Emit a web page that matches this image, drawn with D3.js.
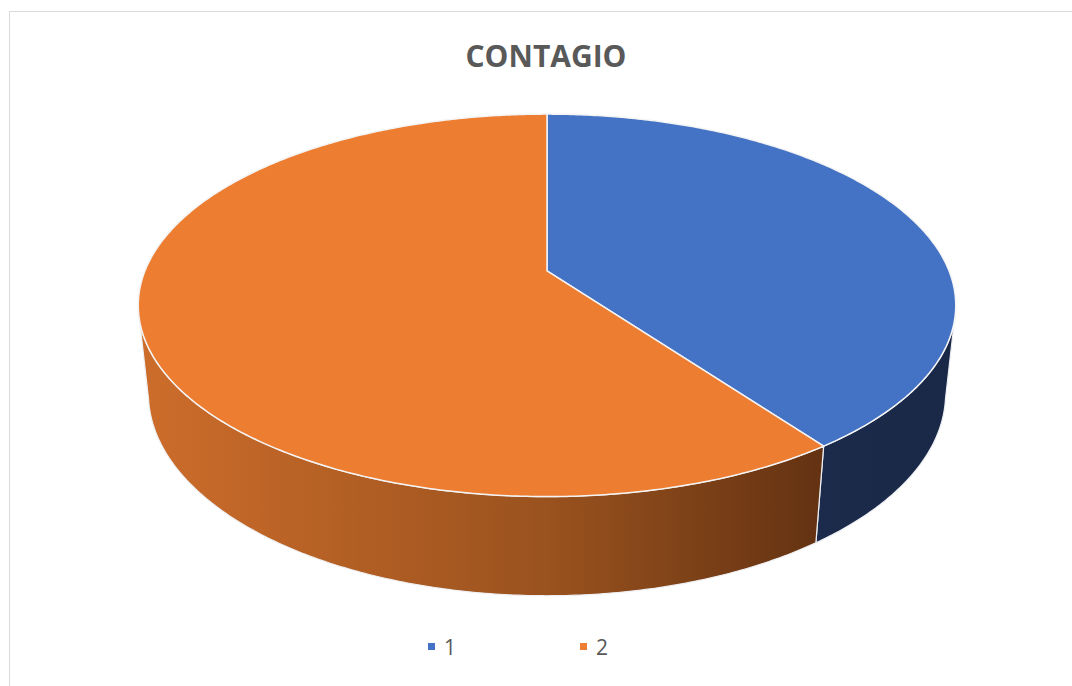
<!DOCTYPE html>
<html>
<head>
<meta charset="utf-8">
<script src="https://cdn.jsdelivr.net/npm/d3@7"></script>
<style>
  html, body { margin: 0; padding: 0; background: #fff; }
  svg { display: block; font-family: "Open Sans", "Liberation Sans", sans-serif; }
</style>
</head>
<body>
<div class="viz"></div>
<script>
// Chart data
const title = "CONTAGIO";
const categories = ["1", "2"];
const values = [40, 60];
const topColors = ["#4472c4", "#ed7d31"];
const sideStops = [
  [["0", "#26395f"], ["1", "#1a2847"]],
  [["0", "#cd6d2b"], ["0.5", "#9a521e"], ["0.84", "#633212"]],
];

const totalWidth = 1072;
const totalHeight = 686;

// 3D pie geometry (unit radius, perspective camera)
const cx = 547;
const cy = 315;
const sinT = 0.48;
const cosT = Math.sqrt(1 - sinT * sinT);
const halfDepth = 0.125;
const camDist = 4.93;
const focal = 1958;

const svg = d3
  .select(".viz")
  .append("svg")
  .attr("width", totalWidth)
  .attr("height", totalHeight);

// Chart area border
svg
  .append("rect")
  .attr("x", 9.5)
  .attr("y", 11.5)
  .attr("width", 1100)
  .attr("height", 700)
  .attr("fill", "none")
  .attr("stroke", "#d9d9d9")
  .attr("stroke-width", 1);

// Project a point of the pie (X right, Z toward viewer, Y up)
function project(X, Z, Y) {
  const yr = Y * cosT - Z * sinT;
  const zr = Y * sinT + Z * cosT;
  const d = camDist - zr;
  return [cx + (focal * X) / d, cy - (focal * yr) / d];
}

function rim(theta, level) {
  return project(Math.sin(theta), -Math.cos(theta), level * halfDepth);
}

function arcPoints(a0, a1, level) {
  const n = Math.max(2, Math.ceil(Math.abs(a1 - a0) / 0.01));
  return d3.range(n + 1).map((i) => rim(a0 + ((a1 - a0) * i) / n, level));
}

const pie = d3.pie().sort(null).startAngle(0).endAngle(2 * Math.PI);
const slices = pie(values);

// Gradients for the side walls
const defs = svg.append("defs");
sideStops.forEach((stops, i) => {
  const grad = defs
    .append("linearGradient")
    .attr("id", `side-${i}`)
    .attr("gradientUnits", "userSpaceOnUse")
    .attr("x1", cx - 409)
    .attr("x2", cx + 409)
    .attr("y1", 0)
    .attr("y2", 0);
  stops.forEach(([o, c]) => grad.append("stop").attr("offset", o).attr("stop-color", c));
});

// Visible range of the outer wall
const visStart = Math.acos(-1 / (camDist * cosT)) - 0.03;
const visEnd = 2 * Math.PI - visStart;

const walls = svg.append("g").attr("class", "walls");
slices.forEach((s, i) => {
  const a0 = Math.max(s.startAngle, visStart);
  const a1 = Math.min(s.endAngle, visEnd);
  if (a1 <= a0) return;
  const pts = arcPoints(a0, a1, 1).concat(arcPoints(a1, a0, -1));
  walls
    .append("path")
    .attr("d", "M" + pts.map((p) => p.join(",")).join("L") + "Z")
    .attr("fill", `url(#side-${i})`)
    .attr("stroke", "#eef0f4")
    .attr("stroke-width", 1.2)
    .attr("stroke-linejoin", "round");
});

// Top faces
const centre = project(0, 0, halfDepth);
svg
  .append("g")
  .attr("class", "tops")
  .selectAll("path")
  .data(slices)
  .enter()
  .append("path")
  .attr("d", (s) => {
    const pts = [centre].concat(arcPoints(s.startAngle, s.endAngle, 1));
    return "M" + pts.map((p) => p.join(",")).join("L") + "Z";
  })
  .attr("fill", (s, i) => topColors[i])
  .attr("stroke", "#f4f4f4")
  .attr("stroke-width", 1.5)
  .attr("stroke-linejoin", "round");

// Title
svg
  .append("text")
  .attr("x", 546)
  .attr("y", 67)
  .attr("text-anchor", "middle")
  .attr("fill", "#595959")
  .style("font-size", "30px")
  .style("font-weight", "700")
  .text(title);

// Legend
const legendX = [428, 580];
const legend = svg
  .append("g")
  .attr("class", "legend")
  .selectAll("g")
  .data(categories)
  .enter()
  .append("g")
  .attr("transform", (d, i) => `translate(${legendX[i]}, 643)`);

legend
  .append("rect")
  .attr("width", 7)
  .attr("height", 7)
  .attr("fill", (d, i) => topColors[i]);

legend
  .append("text")
  .attr("x", 16)
  .attr("y", 12)
  .attr("fill", "#595959")
  .style("font-size", "21px")
  .text((d) => d);
</script>
</body>
</html>
